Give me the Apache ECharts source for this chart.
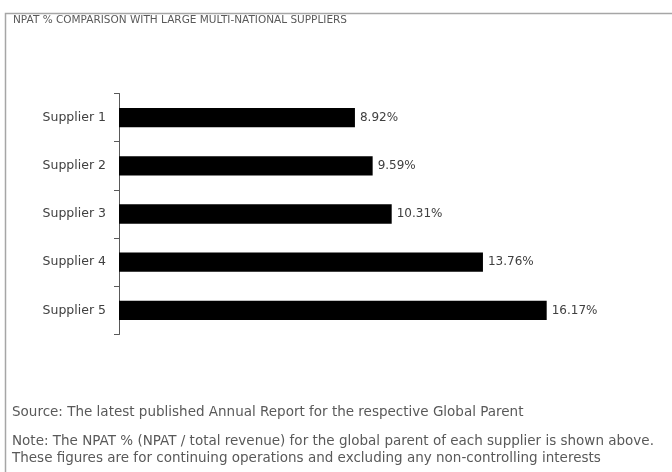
<!DOCTYPE html>
<html>
<head>
<meta charset="utf-8">
<script src="https://cdn.jsdelivr.net/npm/echarts@6/dist/echarts.min.js"></script>
<style>html,body{margin:0;padding:0;background:#fff}#c{width:672px;height:472px}</style>
</head>
<body>
<div id="c"></div>
<script>
const categories = ["Supplier 1", "Supplier 2", "Supplier 3", "Supplier 4", "Supplier 5"];
const npatValues = [8.92, 9.59, 10.31, 13.76, 16.17];
const titleText = "NPAT % COMPARISON WITH LARGE MULTI-NATIONAL SUPPLIERS";
const sourceText = "Source: The latest published Annual Report for the respective Global Parent";
const noteLines = [
  "Note: The NPAT % (NPAT / total revenue) for the global parent of each supplier is shown above.",
  "These figures are for continuing operations and excluding any non-controlling interests"
];

const FONT = "DejaVu Sans";
const TXT = "#404040";
const chart = echarts.init(document.getElementById('c'));
chart.setOption({
  animation: false,
  backgroundColor: '#fff',
  grid: { left: 119, top: 93.5, width: 529, height: 241, containLabel: false },
  xAxis: { type: 'value', min: 0, max: 20, show: false },
  yAxis: {
    type: 'category', data: categories, inverse: true,
    axisLine: { show: true, lineStyle: { color: '#595959', width: 1 } },
    axisTick: { show: true, length: 5, lineStyle: { color: '#595959' } },
    axisLabel: { margin: 13, color: TXT, fontFamily: FONT, fontSize: 12.5 },
    splitLine: { show: false }
  },
  series: [{
    type: 'bar', data: npatValues, barCategoryGap: '60%',
    itemStyle: { color: '#000' },
    label: { show: true, position: 'right', distance: 5, color: TXT, fontFamily: FONT, fontSize: 12,
      formatter: p => p.value.toFixed(2) + '%' }
  }],
  graphic: [
    { type: 'rect', shape: { x: 5.5, y: 13.5, width: 700, height: 500 }, style: { fill: 'none', stroke: '#a6a6a6', lineWidth: 1.5 }, silent: true },
    { type: 'text', x: 13, y: 20, style: { text: titleText, fill: '#595959', font: '10.5px "' + FONT + '"', verticalAlign: 'middle' } },
    { type: 'text', x: 12, y: 412, style: { text: sourceText, fill: '#595959', font: '13.5px "' + FONT + '"', verticalAlign: 'middle' } },
    { type: 'text', x: 12, y: 441, style: { text: noteLines[0], fill: '#595959', font: '13.5px "' + FONT + '"', verticalAlign: 'middle' } },
    { type: 'text', x: 12, y: 458, style: { text: noteLines[1], fill: '#595959', font: '13.5px "' + FONT + '"', verticalAlign: 'middle' } }
  ]
});
</script>
</body>
</html>
